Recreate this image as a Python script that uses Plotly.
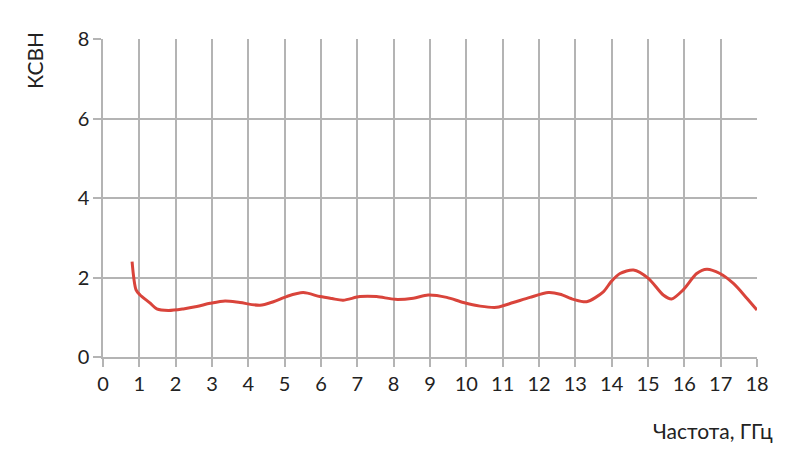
import plotly.graph_objects as go

freq = [0.80, 0.91, 1.02, 1.29, 1.48, 1.80, 2.21, 2.58, 2.95, 3.36, 3.77, 4.32, 4.69,
        5.05, 5.51, 5.97, 6.30, 6.61, 7.07, 7.53, 8.04, 8.54, 8.95, 9.46, 9.92, 10.38,
        10.84, 11.29, 11.75, 12.26, 12.58, 12.95, 13.31, 13.77, 13.98, 14.23, 14.60,
        15.01, 15.42, 15.65, 15.97, 16.34, 16.62, 16.98, 17.35, 17.72, 18.0]
vswr = [2.40, 1.69, 1.56, 1.36, 1.21, 1.17, 1.21, 1.27, 1.35, 1.41, 1.37, 1.30, 1.39,
        1.52, 1.62, 1.52, 1.47, 1.43, 1.52, 1.52, 1.45, 1.48, 1.56, 1.50, 1.37, 1.28,
        1.25, 1.37, 1.50, 1.62, 1.58, 1.45, 1.39, 1.64, 1.89, 2.10, 2.19,
        1.98, 1.56, 1.46, 1.69, 2.10, 2.21, 2.10, 1.85, 1.48, 1.18]
x_ticks = list(range(0, 19))
y_ticks = [0, 2, 4, 6, 8]

FONT = "Lato"
GRID = "#b4b4b4"

fig = go.Figure(go.Scatter(
    x=freq, y=vswr, mode="lines",
    line=dict(color="#d9443b", width=3, shape="spline", smoothing=0.8),
    showlegend=False,
))

# page body has an 8px margin, so shift the plot area back by 8px
fig.update_layout(
    width=800, height=467,
    margin=dict(l=95, r=51, t=31, b=118),
    plot_bgcolor="white", paper_bgcolor="white",
    font=dict(family=FONT, size=20, color="#222"),
)
fig.update_xaxes(
    range=[0, 18], tickvals=x_ticks, showgrid=True, gridcolor=GRID, gridwidth=1.5,
    ticks="outside", ticklen=8, tickcolor=GRID, tickwidth=1.5,
    showline=True, linecolor=GRID, linewidth=1.5, zeroline=False,
    tickfont=dict(family=FONT, size=20),
)
fig.update_yaxes(
    range=[0, 8], tickvals=y_ticks, showgrid=True, gridcolor=GRID, gridwidth=1.5,
    ticks="outside", ticklen=8, tickcolor=GRID, tickwidth=1.5,
    showline=True, linecolor=GRID, linewidth=1.5, zeroline=False,
    tickfont=dict(family=FONT, size=20),
)
fig.add_annotation(
    text="Частота, ГГц", xref="paper", yref="paper", x=1.027, y=-0.185,
    xanchor="right", yanchor="top", showarrow=False, font=dict(family=FONT, size=21),
)
fig.add_annotation(
    text="КСВН", xref="paper", yref="paper", x=-0.104, y=1.03,
    xanchor="center", yanchor="top", textangle=-90, showarrow=False,
    font=dict(family=FONT, size=21),
)

fig.write_html("out.html")
